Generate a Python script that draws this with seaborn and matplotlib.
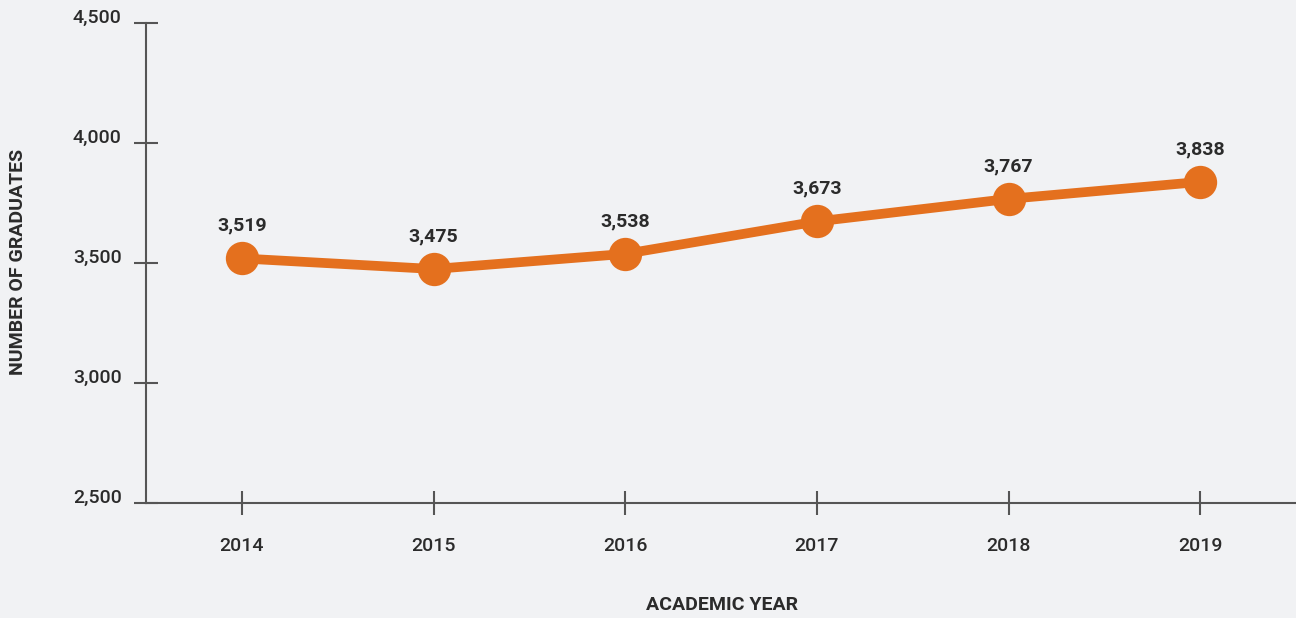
import pandas as pd
import matplotlib.pyplot as plt
import seaborn as sns

# 数据
years = [2014, 2015, 2016, 2017, 2018, 2019]
graduates = [3519, 3475, 3538, 3673, 3767, 3838]
y_ticks = [2500, 3000, 3500, 4000, 4500]

BG = '#f1f2f4'
ORANGE = '#e4701e'
AXIS = '#555555'
TEXT = '#2b2b2b'

sns.set_style('white')
plt.rcParams['font.family'] = ['Roboto', 'DejaVu Sans']

df = pd.DataFrame({'year': years, 'graduates': graduates})

fig = plt.figure(figsize=(12.96, 6.18), dpi=100, facecolor=BG)
ax = fig.add_axes([146 / 1296, 1 - 503 / 618, 1 - 146 / 1296, (503 - 23) / 618])
ax.set_facecolor(BG)

sns.lineplot(data=df, x='year', y='graduates', ax=ax, color=ORANGE,
             linewidth=7, marker='o', markersize=24, markeredgewidth=0)

for x, y in zip(years, graduates):
    ax.annotate(f'{y:,}', (x, y), xytext=(0, 17), textcoords='offset points',
                ha='center', va='bottom', fontsize=14, fontweight='bold', color=TEXT)

ax.set_xlim(2013.5, 2019.5)
ax.set_ylim(2500, 4500)
ax.set_xticks(years)
ax.set_yticks(y_ticks)
ax.set_yticklabels([f'{t:,}' for t in y_ticks])
for lab in ax.get_yticklabels() + ax.get_xticklabels():
    lab.set_fontweight('medium')
for lab in ax.get_yticklabels():
    lab.set_va('baseline')

for side in ['top', 'right']:
    ax.spines[side].set_visible(False)
for side in ['left', 'bottom']:
    ax.spines[side].set_color(AXIS)
    ax.spines[side].set_linewidth(1.5)

ax.tick_params(axis='y', left=True, direction='inout', length=17, width=1.5,
               color=AXIS, labelsize=14, labelcolor=TEXT, pad=9)
ax.tick_params(axis='x', bottom=True, direction='inout', length=17, width=1.5,
               color=AXIS, labelsize=14, labelcolor=TEXT, pad=16)

ax.set_xlabel('')
ax.set_ylabel('')
fig.text(18 / 1296, 1 - 262 / 618, 'NUMBER OF GRADUATES', rotation=90,
         ha='center', va='center', fontsize=14, fontweight='bold', color=TEXT)
fig.text(722 / 1296, 1 - 605 / 618, 'ACADEMIC YEAR',
         ha='center', va='center', fontsize=14, fontweight='bold', color=TEXT)

fig.savefig('out.png', dpi=100, facecolor=BG)
